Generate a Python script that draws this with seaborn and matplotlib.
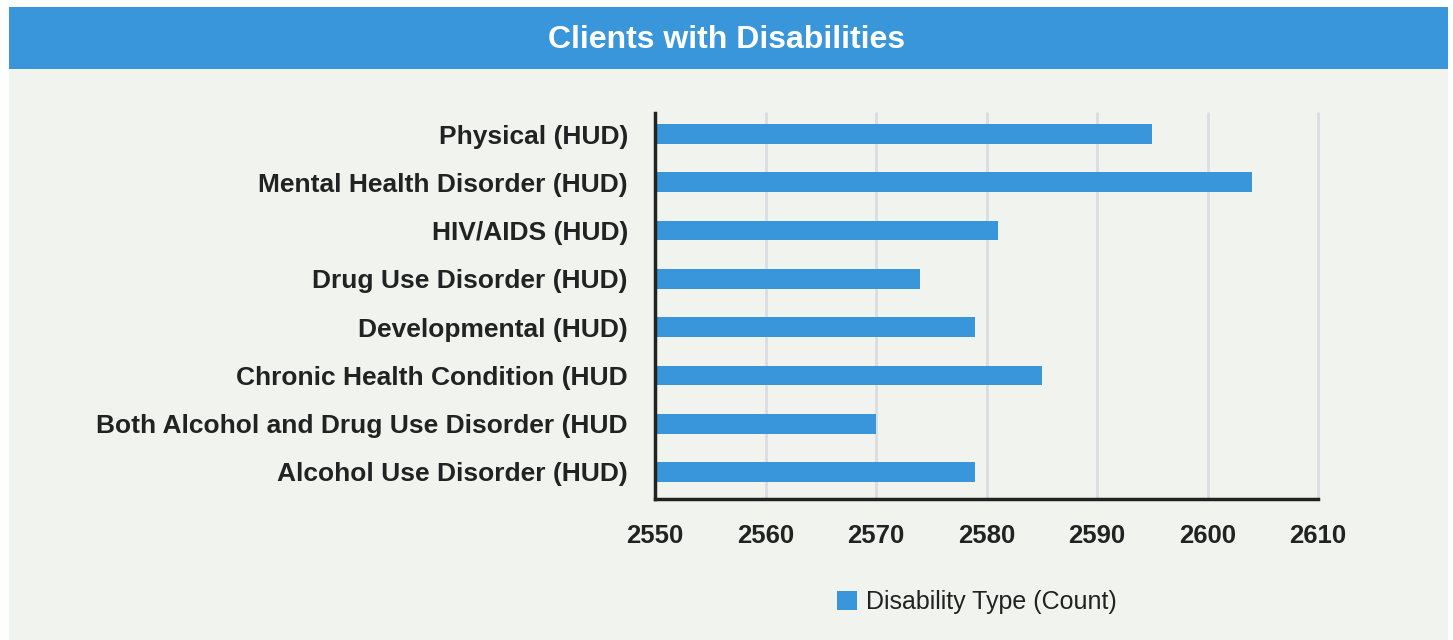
import matplotlib
matplotlib.use("Agg")
import matplotlib.pyplot as plt
from matplotlib.patches import Rectangle, Patch
import seaborn as sns
import pandas as pd

# Disability counts by type (HUD categories)
categories = [
    "Physical (HUD)",
    "Mental Health Disorder (HUD)",
    "HIV/AIDS (HUD)",
    "Drug Use Disorder (HUD)",
    "Developmental (HUD)",
    "Chronic Health Condition (HUD",
    "Both Alcohol and Drug Use Disorder (HUD",
    "Alcohol Use Disorder (HUD)",
]
counts = [2595, 2604, 2581, 2574, 2579, 2585, 2570, 2579]
x_ticks = [2550, 2560, 2570, 2580, 2590, 2600, 2610]

BLUE = "#3a96db"
PANEL = "#f1f4ee"
FONT = ["Liberation Sans", "DejaVu Sans"]

sns.set_theme(style="white")
plt.rcParams["font.family"] = FONT

df = pd.DataFrame({"Disability": categories, "Count": counts})

fig = plt.figure(figsize=(14.53, 6.4), dpi=100)
fig.patch.set_facecolor("white")

# panel background and title banner
fig.patches.append(Rectangle((9 / 1453, 0), 1439 / 1453, 633 / 640,
                             transform=fig.transFigure, facecolor=PANEL,
                             edgecolor="none", zorder=-2))
fig.patches.append(Rectangle((9 / 1453, 571 / 640), 1439 / 1453, 62 / 640,
                             transform=fig.transFigure, facecolor=BLUE,
                             edgecolor="none", zorder=-1))
fig.text(0.5, 600 / 640, "Clients with Disabilities", ha="center", va="center",
         color="white", fontsize=23, fontweight="bold")

ax = fig.add_axes([655 / 1453, 141 / 640, 663 / 1453, 386 / 640])
ax.set_facecolor(PANEL)

sns.barplot(data=df, x="Count", y="Disability", orient="h", color=BLUE,
            width=0.41, saturation=1, linewidth=0, edgecolor="none",
            ax=ax, zorder=3)

ax.set_xlim(x_ticks[0], x_ticks[-1])
ax.set_ylim(7.56, -0.435)
ax.set_xticks(x_ticks)
ax.set_xlabel("")
ax.set_ylabel("")

# vertical gridlines at each tick
ax.grid(False)
for t in x_ticks[1:]:
    ax.axvline(t, color="#dcdde0", linewidth=2, zorder=0, clip_on=False)

for side in ("top", "right"):
    ax.spines[side].set_visible(False)
for side in ("left", "bottom"):
    ax.spines[side].set_color("#222222")
    ax.spines[side].set_linewidth(2.5)
    ax.spines[side].set_zorder(4)

ax.tick_params(axis="y", length=0, pad=19.5, labelsize=19, labelcolor="#222222")
ax.tick_params(axis="x", length=0, pad=18, labelsize=18.5, labelcolor="#222222")
for lbl in ax.get_yticklabels() + ax.get_xticklabels():
    lbl.set_fontweight("bold")

legend_handle = Patch(facecolor=BLUE, edgecolor="none", label="Disability Type (Count)")
fig.legend(handles=[legend_handle], loc="center", bbox_to_anchor=(977 / 1453, 38 / 640),
           frameon=False, fontsize=18, handlelength=0.8, handleheight=0.8,
           handletextpad=0.35, labelcolor="#222222")

fig.savefig("out.png", dpi=100, facecolor=fig.get_facecolor())
